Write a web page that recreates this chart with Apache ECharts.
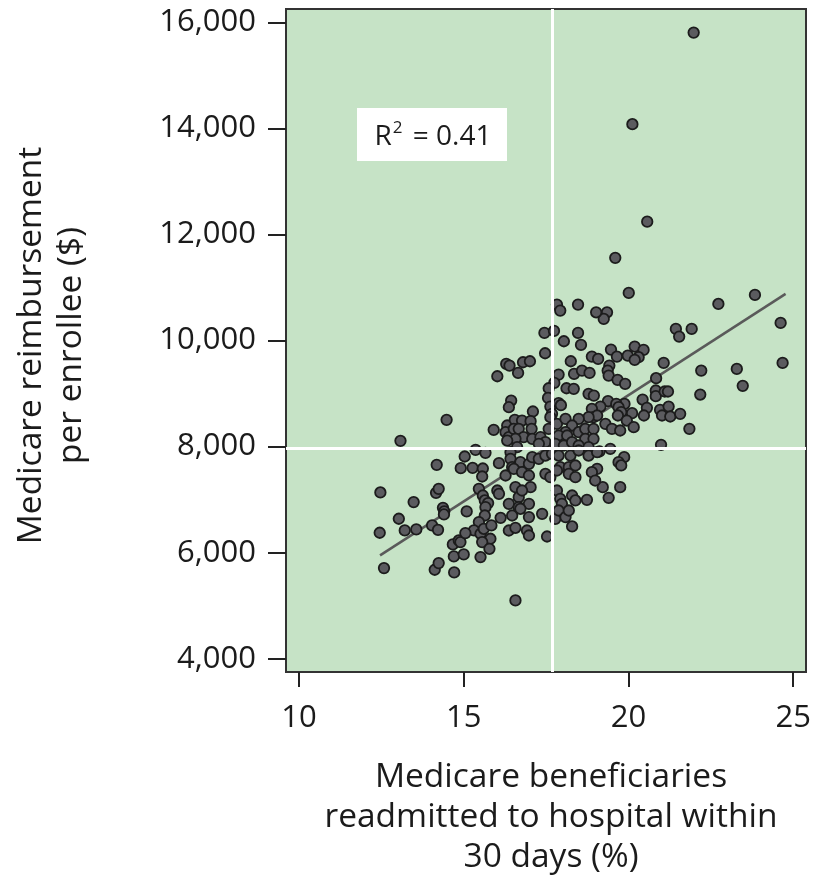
<!DOCTYPE html>
<html>
<head>
<meta charset="utf-8">
<style>
  html, body { margin: 0; padding: 0; background: #ffffff; }
  #chart { width: 813px; height: 875px; }
</style>
<script src="https://cdn.jsdelivr.net/npm/echarts@6/dist/echarts.min.js"></script>
</head>
<body>
<div id="chart"></div>
<script>
// Hospital referral regions: 30-day readmission rate (%) vs. reimbursement per enrollee ($)
const readmitPct = [
  21.98, 20.12, 20.57, 19.60,
  20.01, 19.35, 19.25, 21.44, 21.54, 21.92, 19.47, 19.65, 19.42, 19.37, 19.40, 19.98, 20.19, 20.46, 20.31, 20.19,
  21.07, 19.67, 19.90, 20.84, 20.83, 20.83, 21.10, 21.20, 19.38, 19.88, 20.43, 20.56, 19.63, 19.70, 19.78, 19.68,
  20.11, 20.47, 20.96, 21.02, 21.22, 21.27, 21.57, 21.85, 19.15, 19.30, 19.50, 19.75, 19.95, 20.16, 20.99, 19.45,
  19.12, 19.87, 19.70, 19.78, 19.22, 19.75, 19.40, 19.05,
  23.84, 22.73, 24.62, 22.21, 23.29, 23.47, 24.68, 22.18,
  17.83, 17.93, 18.47, 19.02, 17.45, 17.74, 18.47, 18.04, 18.56, 17.47, 16.29, 16.39, 16.80, 17.01, 16.02, 16.65,
  17.88, 18.35, 18.59, 18.82, 18.89, 19.08, 17.75, 17.58, 18.12, 18.34, 18.79, 18.95, 17.56, 16.44, 16.37, 17.10,
  17.63, 17.68, 17.88, 17.95, 18.89, 18.94, 19.05, 18.79, 15.91, 18.25,
  16.32, 16.27, 16.37, 16.55, 16.52, 16.77, 16.67, 17.03, 17.06, 16.82, 16.57, 16.32, 17.08, 17.33, 17.58, 17.63,
  17.83, 18.09, 18.49, 18.29, 18.09, 18.49, 17.88, 18.14, 18.69, 18.94, 18.69, 18.94, 17.48, 17.28, 17.78, 18.04,
  18.29, 18.49, 18.79, 16.62,
  16.42, 18.24, 18.49, 18.79, 19.05,
  16.07, 16.42, 16.47, 16.72, 16.98, 17.08, 17.28, 17.48, 17.68, 17.88, 17.93, 18.19, 18.39,
  16.27, 16.52, 16.77, 16.98, 17.48, 17.63, 17.83, 18.19, 18.39, 18.89, 18.99,
  16.02, 16.07, 16.57, 17.03, 16.67, 16.77, 17.83, 17.93, 18.29, 18.39, 18.74,
  16.37, 16.67, 16.98, 17.98,
  16.12, 16.47, 16.72, 16.98, 17.38, 17.78, 17.88, 18.09, 18.19, 18.29,
  16.37, 16.57, 16.92, 16.98, 17.53, 16.57,
  14.48, 13.08, 15.36, 15.66, 15.03, 14.18, 14.91, 15.27, 15.58, 15.56, 12.47, 13.48, 14.16, 14.24, 14.37, 14.41,
  14.40, 15.09, 15.46, 15.58, 15.64, 15.74, 15.66, 15.64, 15.46, 15.31, 15.51, 15.61, 15.84, 15.81, 15.56, 15.78,
  15.51, 13.03, 12.45, 13.21, 13.56, 14.04, 14.22, 14.67, 14.85, 14.90, 15.05, 14.70, 15.00, 12.58, 14.12, 14.24,
  14.71
];
const reimbursement = [
  15806, 14079, 12242, 11559,
  10898, 10533, 10408, 10219, 10075, 10219, 9830, 9698, 9529, 9434, 9340, 9717, 9887, 9824, 9686, 9635,
  9579, 9259, 9183, 9290, 9058, 8951, 9039, 9039, 8857, 8806, 8888, 8731, 8806, 8744, 8650, 8587,
  8631, 8587, 8693, 8587, 8756, 8568, 8618, 8335, 8756, 8430, 8335, 8304, 8492, 8367, 8034, 7959,
  7908, 7802, 7707, 7645, 7236, 7236, 7035, 7582,
  10860, 10690, 10332, 9434, 9466, 9146, 9579, 8982,
  10678, 10565, 10678, 10533, 10144, 10182, 10144, 9987, 9918, 9761, 9560, 9528, 9591, 9610, 9327, 9390,
  9359, 9371, 9434, 9390, 9698, 9654, 9202, 9101, 9101, 9089, 8995, 8963, 8919, 8869, 8743, 8662,
  8756, 8618, 8819, 8781, 8712, 8555, 8587, 8555, 8316, 9610,
  8398, 8272, 8178, 8505, 8335, 8492, 8335, 8480, 8335, 8178, 8147, 8115, 8147, 8178, 8335, 8555,
  8430, 8524, 8524, 8398, 8272, 8272, 8210, 8210, 8335, 8335, 8147, 8147, 8084, 8053, 8053, 8021,
  8084, 8021, 7990, 7990,
  7895, 7832, 7927, 7832, 7895,
  7688, 7770, 7613, 7707, 7675, 7801, 7770, 7832, 7864, 7832, 7613, 7613, 7644,
  7456, 7581, 7518, 7456, 7487, 7424, 7550, 7487, 7424, 7518, 7361,
  7173, 7110, 7236, 7236, 7047, 7173, 7173, 7016, 7079, 6985, 6997,
  6922, 6859, 6922, 6922,
  6658, 6702, 6828, 6671, 6733, 6639, 6796, 6671, 6796, 6495,
  6419, 6470, 6419, 6325, 6306, 5101,
  8505, 8109, 7940, 7883, 7814, 7657, 7594, 7600, 7588, 7437, 7136, 6954, 7129, 7205, 6847, 6780,
  6721, 6778, 7205, 7079, 6985, 6935, 6859, 6702, 6577, 6420, 6357, 6451, 6514, 6263, 6200, 6074,
  5917, 6640, 6376, 6420, 6439, 6514, 6432, 6156, 6231, 6200, 6370, 5930, 5968, 5710, 5679, 5804,
  5629
];

// Least-squares fit line end points
const fitX = [12.46, 24.77];
const fitY = [5950, 10880];

// Reference lines at the mean of each variable
const meanReadmit = 17.70;
const meanReimbursement = 7965;

const rSquared = '0.41';

const xTicks = [10, 15, 20, 25];
const yTicks = [4000, 6000, 8000, 10000, 12000, 14000, 16000];
const xExtent = [9.605, 25.39];
const yExtent = [3751, 16251];

const points = readmitPct.map((x, i) => [x, reimbursement[i]]);
const fitLine = fitX.map((x, i) => [x, fitY[i]]);

const FONT = "'Open Sans', 'DejaVu Sans', sans-serif";
const INK = '#1b1b1b';
const chart = echarts.init(document.getElementById('chart'), null, { renderer: 'canvas' });

chart.setOption({
  animation: false,
  backgroundColor: '#ffffff',
  grid: {
    left: 286, top: 9, width: 520, height: 663,
    outerBoundsMode: 'none',
    containLabel: false,
    show: true,
    backgroundColor: '#c6e3c6',
    borderColor: '#333333',
    borderWidth: 2
  },
  xAxis: {
    type: 'value',
    min: xExtent[0], max: xExtent[1],
    splitLine: { show: false },
    axisLine: { show: true, lineStyle: { color: '#333333', width: 2 } },
    axisTick: { show: true, customValues: xTicks, length: 15, lineStyle: { color: '#222222', width: 2 } },
    axisLabel: {
      customValues: xTicks, margin: 31,
      fontFamily: FONT, fontSize: 31, color: INK
    },
    name: 'Medicare beneficiaries\nreadmitted to hospital within\n30 days (%)',
    nameLocation: 'middle',
    nameGap: 85,
    nameTextStyle: {
      fontFamily: FONT, fontSize: 33.5, color: INK, lineHeight: 40,
      align: 'center', padding: [0, 0, 0, 10]
    }
  },
  yAxis: {
    type: 'value',
    min: yExtent[0], max: yExtent[1],
    splitLine: { show: false },
    axisLine: { show: true, lineStyle: { color: '#333333', width: 2 } },
    axisTick: { show: true, customValues: yTicks, length: 18, lineStyle: { color: '#222222', width: 2 } },
    axisLabel: {
      customValues: yTicks, margin: 30,
      fontFamily: FONT, fontSize: 31, color: INK,
      formatter: v => Number(v).toLocaleString('en-US')
    },
    name: 'Medicare reimbursement\nper enrollee ($)',
    nameLocation: 'middle',
    nameGap: 195,
    nameTextStyle: {
      fontFamily: FONT, fontSize: 33.5, color: INK, lineHeight: 40, align: 'center',
      padding: [0, 10, 0, 0]
    }
  },
  series: [
    {
      // mean reference lines, drawn beneath the points
      type: 'scatter',
      data: [],
      z: 1,
      silent: true,
      markLine: {
        silent: true,
        symbol: 'none',
        animation: false,
        label: { show: false },
        lineStyle: { color: '#ffffff', width: 3, type: 'solid' },
        emphasis: { disabled: true },
        data: [{ xAxis: meanReadmit }, { yAxis: meanReimbursement }]
      }
    },
    {
      type: 'line',
      data: fitLine,
      z: 2,
      symbol: 'none',
      silent: true,
      lineStyle: { color: '#5a5a5a', width: 2.5 }
    },
    {
      type: 'scatter',
      data: points,
      z: 3,
      symbol: 'circle',
      symbolSize: 10.5,
      itemStyle: { color: '#5b5b5f', borderColor: '#1c1c1c', borderWidth: 1.8, opacity: 1 }
    }
  ],
  graphic: [
    {
      type: 'group',
      left: 357, top: 108,
      z: 10,
      children: [
        { type: 'rect', shape: { x: 0, y: 0, width: 150, height: 53 }, style: { fill: '#ffffff' } },
        {
          type: 'text',
          style: {
            x: 76, y: 29,
            text: 'R{sup|2} = ' + rSquared,
            fontFamily: FONT, fontSize: 28, fill: INK,
            align: 'center', verticalAlign: 'middle',
            rich: {
              sup: { fontFamily: FONT, fontSize: 17, fill: INK, lineHeight: 20, verticalAlign: 'top', padding: [0, 3, 0, 1] }
            },
            lineHeight: 34
          }
        }
      ]
    }
  ]
});
</script>
</body>
</html>
